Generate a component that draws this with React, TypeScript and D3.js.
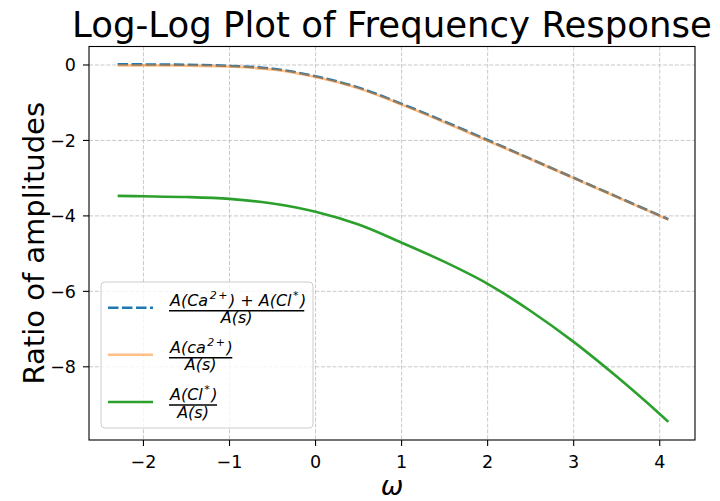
import React, { useEffect, useRef } from "react";
import * as d3 from "d3";

const omega = [-2.3, -2, -1.5, -1, -0.5, 0, 0.5, 1, 1.5, 2, 2.5, 3, 3.5, 4, 4.1];
const totalRatio = [0.02, 0.015, 0.005, -0.025, -0.1, -0.3, -0.6, -1.03, -1.5, -1.99, -2.49, -2.99, -3.49, -3.99, -4.09];
const caRatio = [-0.01, -0.01, -0.02, -0.04, -0.12, -0.32, -0.62, -1.05, -1.52, -2.01, -2.5, -3.0, -3.5, -4.0, -4.1];
const clRatio = [-3.47, -3.48, -3.5, -3.55, -3.67, -3.89, -4.23, -4.71, -5.22, -5.8, -6.52, -7.34, -8.26, -9.25, -9.46];

const xTicks = [-2, -1, 0, 1, 2, 3, 4];
const yTicks = [0, -2, -4, -6, -8];

const titleText = "Log-Log Plot of Frequency Response";
const xLabel = "ω";
const yLabel = "Ratio of amplitudes";

type Part = { t: string; sup?: boolean };
const legendNumerators: Part[][] = [
  [{ t: "A(Ca" }, { t: "2+", sup: true }, { t: ") + A(Cl" }, { t: "*", sup: true }, { t: ")" }],
  [{ t: "A(ca" }, { t: "2+", sup: true }, { t: ")" }],
  [{ t: "A(Cl" }, { t: "*", sup: true }, { t: ")" }],
];
const legendDenominator = "A(s)";

const seriesList = [
  { values: totalRatio, color: "#1f77b4", dash: "10.5,3.5" as string | null, opacity: 1 },
  { values: caRatio, color: "#ff7f0e", dash: null as string | null, opacity: 0.5 },
  { values: clRatio, color: "#2ca02c", dash: null as string | null, opacity: 1 },
];

const W = 720;
const H = 501;
const FONT = "'DejaVu Sans', sans-serif";

export default function App() {
  const ref = useRef<SVGSVGElement | null>(null);

  useEffect(() => {
    const svg = d3.select(ref.current);
    svg.selectAll("*").remove();

    const left = 89, right = 695, top = 46.5, bottom = 440;
    const x = d3.scaleLinear().domain([-2.633, 4.41]).range([left, right]);
    const y = d3.scaleLinear().domain([-9.94, 0.49]).range([bottom, top]);

    svg.append("rect").attr("width", W).attr("height", H).attr("fill", "white");

    // grid
    const grid = svg.append("g").attr("stroke", "#b0b0b0").attr("stroke-width", 0.9)
      .attr("stroke-dasharray", "4,1.8").attr("opacity", 0.75);
    xTicks.forEach((t) => {
      grid.append("line").attr("x1", x(t)).attr("x2", x(t)).attr("y1", top).attr("y2", bottom);
    });
    yTicks.forEach((t) => {
      grid.append("line").attr("x1", left).attr("x2", right).attr("y1", y(t)).attr("y2", y(t));
    });

    // lines
    const line = d3.line<number>()
      .x((_, i) => x(omega[i]))
      .y((d) => y(d))
      .curve(d3.curveCatmullRom.alpha(0.5));
    seriesList.forEach((s) => {
      const p = svg.append("path").attr("d", line(s.values) as string)
        .attr("fill", "none").attr("stroke", s.color).attr("stroke-width", 2.6)
        .attr("stroke-opacity", s.opacity);
      if (s.dash) p.attr("stroke-dasharray", s.dash);
    });

    // spines
    svg.append("rect").attr("x", left).attr("y", top).attr("width", right - left)
      .attr("height", bottom - top).attr("fill", "none").attr("stroke", "black").attr("stroke-width", 1.1);

    // ticks
    const tk = svg.append("g").attr("font-family", FONT).attr("font-size", 17.5).attr("fill", "black");
    xTicks.forEach((t) => {
      tk.append("line").attr("x1", x(t)).attr("x2", x(t)).attr("y1", bottom).attr("y2", bottom + 6)
        .attr("stroke", "black").attr("stroke-width", 1.1);
      tk.append("text").attr("x", x(t)).attr("y", 467.5).attr("text-anchor", "middle")
        .text(t < 0 ? "\u2212" + Math.abs(t) : String(t));
    });
    yTicks.forEach((t) => {
      tk.append("line").attr("x1", left - 6).attr("x2", left).attr("y1", y(t)).attr("y2", y(t))
        .attr("stroke", "black").attr("stroke-width", 1.1);
      tk.append("text").attr("x", 76).attr("y", y(t) + 6.3).attr("text-anchor", "end")
        .text(t < 0 ? "\u2212" + Math.abs(t) : String(t));
    });

    // title & labels
    svg.append("text").attr("x", (left + right) / 2).attr("y", 37).attr("text-anchor", "middle")
      .attr("font-family", FONT).attr("font-size", 35.5).text(titleText);
    svg.append("text").attr("x", (left + right) / 2).attr("y", 495).attr("text-anchor", "middle")
      .attr("font-family", FONT).attr("font-style", "italic").attr("font-size", 27).text(xLabel);
    svg.append("text").attr("transform", `translate(44,${(top + bottom) / 2}) rotate(-90)`)
      .attr("text-anchor", "middle").attr("font-family", FONT).attr("font-size", 29).text(yLabel);

    // legend
    const lg = svg.append("g");
    lg.append("rect").attr("x", 101).attr("y", 282).attr("width", 212).attr("height", 146)
      .attr("rx", 4).attr("fill", "white").attr("fill-opacity", 0.8)
      .attr("stroke", "#cccccc").attr("stroke-width", 1);
    const barYs = [310.7, 357.7, 405];
    const fx = 169;
    seriesList.forEach((s, i) => {
      const by = barYs[i];
      const h = lg.append("line").attr("x1", 108).attr("x2", 153).attr("y1", by - 3).attr("y2", by - 3)
        .attr("stroke", s.color).attr("stroke-width", 2.6).attr("stroke-opacity", s.opacity);
      if (s.dash) h.attr("stroke-dasharray", s.dash);
      const num = lg.append("text").attr("x", fx + 1).attr("y", by - 4.7)
        .attr("font-family", FONT).attr("font-style", "italic").attr("font-size", 16)
        .attr("xml:space", "preserve").style("white-space", "pre");
      legendNumerators[i].forEach((p, j) => {
        const ts = num.append("tspan").text(p.t);
        if (p.sup) ts.attr("font-size", 11).attr("dy", -7).attr("dx", 1.5).attr("letter-spacing", 1.5);
        else if (j > 0 && legendNumerators[i][j - 1].sup) ts.attr("dy", 7);
      });
      const wNum = (num.node() as SVGTextElement).getComputedTextLength();
      const bw = wNum + 2;
      lg.append("line").attr("x1", fx).attr("x2", fx + bw).attr("y1", by).attr("y2", by)
        .attr("stroke", "black").attr("stroke-width", 1.4);
      lg.append("text").attr("x", fx + bw / 2).attr("y", by + 12.6).attr("text-anchor", "middle")
        .attr("font-family", FONT).attr("font-style", "italic").attr("font-size", 16)
        .text(legendDenominator);
    });
  }, []);

  return (
    <svg ref={ref} width={W} height={H}
      style={{ position: "absolute", left: 0, top: 0, display: "block" }} />
  );
}
